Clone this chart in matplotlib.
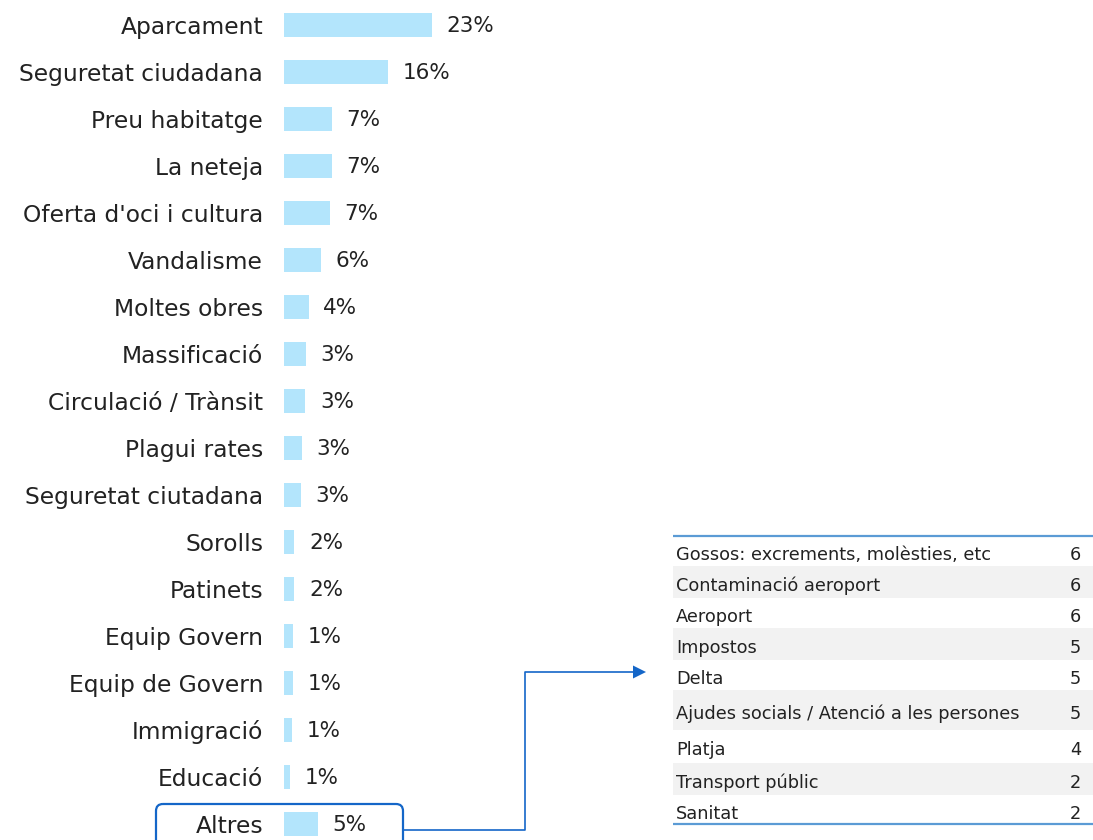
import matplotlib
matplotlib.use("Agg")
import matplotlib.pyplot as plt
from matplotlib.patches import Rectangle, FancyBboxPatch, Polygon

# ---------------- data ----------------
categories = ["Aparcament", "Seguretat ciudadana", "Preu habitatge", "La neteja",
              "Oferta d'oci i cultura", "Vandalisme", "Moltes obres", "Massificació",
              "Circulació / Trànsit", "Plagui rates", "Seguretat ciutadana", "Sorolls",
              "Patinets", "Equip Govern", "Equip de Govern", "Immigració", "Educació",
              "Altres"]
values = [22.8, 16.0, 7.4, 7.4, 7.1, 5.7, 3.8, 3.4, 3.3, 2.7, 2.6, 1.6, 1.6,
          1.4, 1.4, 1.2, 0.9, 5.2]

others_labels = ["Gossos: excrements, molèsties, etc", "Contaminació aeroport",
                 "Aeroport", "Impostos", "Delta",
                 "Ajudes socials / Atenció a les persones", "Platja",
                 "Transport públic", "Sanitat"]
others_counts = [6, 6, 6, 5, 5, 5, 4, 2, 2]

# ---------------- style ----------------
W, H = 1093, 840
FONT = "DejaVu Sans"
BAR_COLOR = "#B3E5FC"
TEXT_COLOR = "#222222"
TABLE_LINE = "#5B9BD5"
CONNECT = "#1466C8"
GRAY = "#F2F2F2"

plt.rcParams["font.family"] = [FONT]

fig = plt.figure(figsize=(W / 100, H / 100), dpi=100)
fig.patch.set_facecolor("white")

def px_axes(x0, y0, x1, y1):
    """axes by pixel box (top-left origin)"""
    return fig.add_axes([x0 / W, 1 - y1 / H, (x1 - x0) / W, (y1 - y0) / H])

# ---------------- bar chart ----------------
row_px = 47.0
first_px = 25.0
scale = 6.49  # px per %
ax_x0, ax_x1 = 284, 600
ax = px_axes(ax_x0, 0, ax_x1, H)
n = len(categories)
ypos = list(range(n))
ax.barh(ypos, values, height=0.49, color=BAR_COLOR, edgecolor="none")
ax.set_xlim(0, (ax_x1 - ax_x0) / scale)
ax.set_ylim((H - first_px) / row_px, -first_px / row_px)
ax.set_yticks(ypos)
ax.set_yticklabels(categories, fontsize=16.8, color=TEXT_COLOR)
ax.tick_params(axis="y", length=0, pad=15)
ax.set_xticks([])
for s in ax.spines.values():
    s.set_visible(False)
ax.patch.set_alpha(0)
for y, v in zip(ypos, values):
    ax.annotate(f"{v:.0f}%", xy=(v, y), xytext=(10.5, -1), textcoords="offset points",
                ha="left", va="center", fontsize=15.5, color=TEXT_COLOR)

# ---------------- table of "Altres" ----------------
tx0, tx1 = 673, 1093
ty0 = 535.7
row_h = [30, 32, 30.6, 31.7, 30, 40, 32.7, 32.3, 29]
tab = px_axes(tx0, 0, tx1, H)
tab.set_xlim(tx0, tx1)
tab.set_ylim(H, 0)
tab.axis("off")
tab.patch.set_alpha(0)
y = ty0
for i, (lab, cnt) in enumerate(zip(others_labels, others_counts)):
    h = row_h[i]
    if i % 2 == 1:
        tab.add_patch(Rectangle((tx0, y), tx1 - tx0, h, facecolor=GRAY, edgecolor="none"))
    yc = y + h / 2 + 4
    tab.text(676, yc, lab, ha="left", va="center", fontsize=12.8, color=TEXT_COLOR)
    tab.text(1081, yc, str(cnt), ha="right", va="center", fontsize=12.8, color=TEXT_COLOR)
    y += h
tab.plot([tx0, tx1], [ty0, ty0], color=TABLE_LINE, lw=1.6, solid_capstyle="butt")
tab.plot([tx0, tx1], [y, y], color=TABLE_LINE, lw=1.6, solid_capstyle="butt")

# ---------------- overlay: box + connector ----------------
ov = fig.add_axes([0, 0, 1, 1])
ov.set_xlim(0, W)
ov.set_ylim(H, 0)
ov.axis("off")
ov.patch.set_alpha(0)
ov.add_patch(FancyBboxPatch((156, 804), 403 - 156, 60,
                            boxstyle="round,pad=0,rounding_size=7",
                            facecolor="none", edgecolor=CONNECT, lw=1.6))
ov.plot([403, 525, 525, 634], [830, 830, 672, 672], color=CONNECT, lw=1.2)
ov.add_patch(Polygon([[633, 665.5], [646, 672], [633, 678.5]], closed=True,
                     facecolor=CONNECT, edgecolor="none"))

fig.savefig("out.png", dpi=100, facecolor="white")
